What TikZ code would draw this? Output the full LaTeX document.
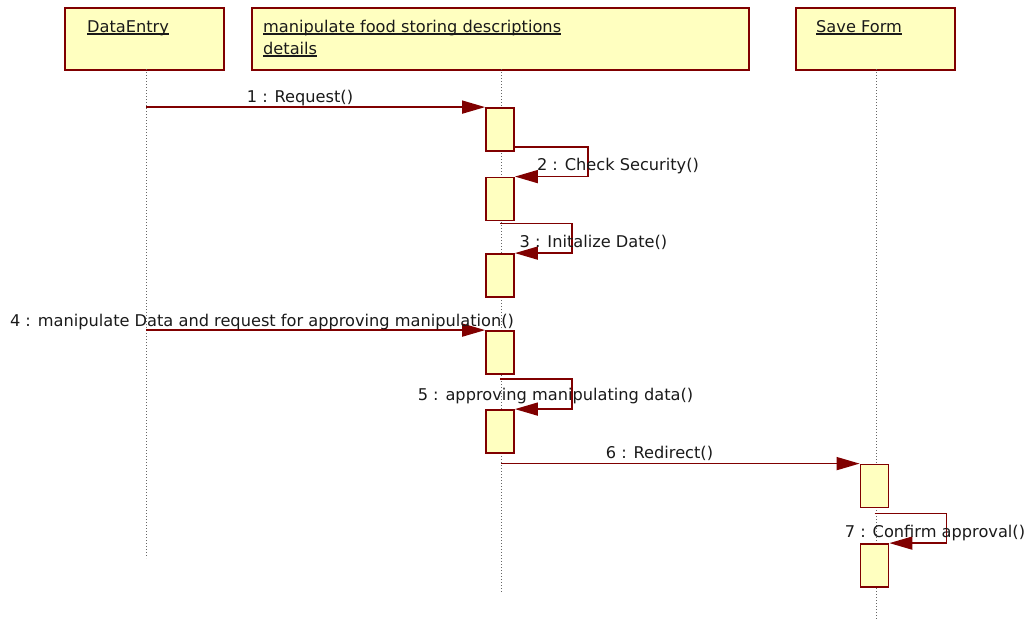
\documentclass[tikz,border=0pt]{standalone}
\usepackage{fontspec}
\setmainfont{DejaVu Sans}
\usepackage{tikz}
\usetikzlibrary{
    arrows.meta,
    positioning,
    calc,
}
\usepackage{xcolor}
\definecolor{umlfill}{HTML}{FFFFC0}
\definecolor{umlline}{HTML}{800000}
\definecolor{umltext}{HTML}{1A1A1A}
\newsavebox{\objbox}
\newcommand{\objname}[1]{\sbox{\objbox}{#1}\rlap{\rule[-2.8pt]{\wd\objbox}{1.7pt}}\usebox{\objbox}}

\begin{document}
\begin{tikzpicture}[
    x=1pt, y=-1pt,
    >={Triangle[length=23pt, width=13pt]},
    header/.style   = {draw=umlline, fill=umlfill, line width=1.8pt,
                       minimum height=62pt, inner sep=0pt, anchor=north west},
    title/.style    = {anchor=base west, inner sep=0pt, text=umltext,
                       font=\fontsize{16.2}{22}\selectfont, align=left},
    actbox/.style   = {draw=umlline, fill=umlfill, line width=1.8pt,
                       minimum width=28pt, minimum height=43pt, inner sep=0pt},
    lifeline/.style = {draw=black!60, dotted, line width=1pt},
    msg/.style      = {->, draw=umlline, line width=1.6pt},
    msglabel/.style = {anchor=base, inner sep=0pt, text=umltext,
                       font=\fontsize{16.2}{19}\selectfont},
]
\useasboundingbox (0,0) rectangle (1031,619);

%% ── Objects ──────────────────────────────────────────────────────────────────
\node[header, minimum width=159pt] (de) at (64,7)  {};
\node[header, minimum width=497pt] (mf) at (251,7) {};
\node[header, minimum width=159pt] (sf) at (795,7) {};

\node[title] (deName) at (87,32)  {\objname{DataEntry}};
\node[title] (mfName) at (263,54) {\objname{manipulate food storing descriptions}\\\objname{details}};
\node[title] (sfName) at (816,32) {\objname{Save Form}};

%% ── Lifelines ────────────────────────────────────────────────────────────────
\coordinate (deTop) at (146,69); \coordinate (deEnd) at (146,558);
\coordinate (mfTop) at (501,69); \coordinate (mfEnd) at (501,593);
\coordinate (sfTop) at (876,69); \coordinate (sfEnd) at (876,619);
\draw[lifeline] (deTop) -- (deEnd);
\draw[lifeline] (mfTop) -- (mfEnd);
\draw[lifeline] (sfTop) -- (sfEnd);

%% ── Activations ──────────────────────────────────────────────────────────────
\node[actbox] (a1) at (500,129.5) {};
\node[actbox] (a2) at (500,199)   {};
\node[actbox] (a3) at (500,275.5) {};
\node[actbox] (a4) at (500,352.5) {};
\node[actbox] (a5) at (500,431.5) {};
\node[actbox] (a6) at (874.5,486)   {};
\node[actbox] (a7) at (874.5,565.5) {};

%% ── Messages ─────────────────────────────────────────────────────────────────
\draw[msg] (a1.north west -| deTop) -- (a1.north west);
\draw[msg] ([yshift=5pt]a1.south east) -- ++(73,0) |- (a2.north east);
\draw[msg] ([yshift=-2pt]a2.south) -- ++(72,0) |- (a3.north east);
\draw[msg] (a4.north west -| deTop) -- (a4.north west);
\draw[msg] ([yshift=-4pt]a4.south) -- ++(72,0) |- (a5.north east);
\draw[msg] (a6.north west -| mfTop) -- (a6.north west);
\draw[msg] ([yshift=-5pt]a6.south) -- ++(72,0) |- (a7.north east);

\node[msglabel] (m1) at (300,102)   {1 : Request()};
\node[msglabel] (m2) at (618,170)   {2 : Check Security()};
\node[msglabel] (m3) at (593.5,247) {3 : Initalize Date()};
\node[msglabel] (m4) at (262,326)   {4 : manipulate Data and request for approving manipulation()};
\node[msglabel] (m5) at (555.5,400) {5 : approving manipulating data()};
\node[msglabel] (m6) at (659.5,458) {6 : Redirect()};
\node[msglabel] (m7) at (935,537)   {7 : Confirm approval()};

\end{tikzpicture}
\end{document}
